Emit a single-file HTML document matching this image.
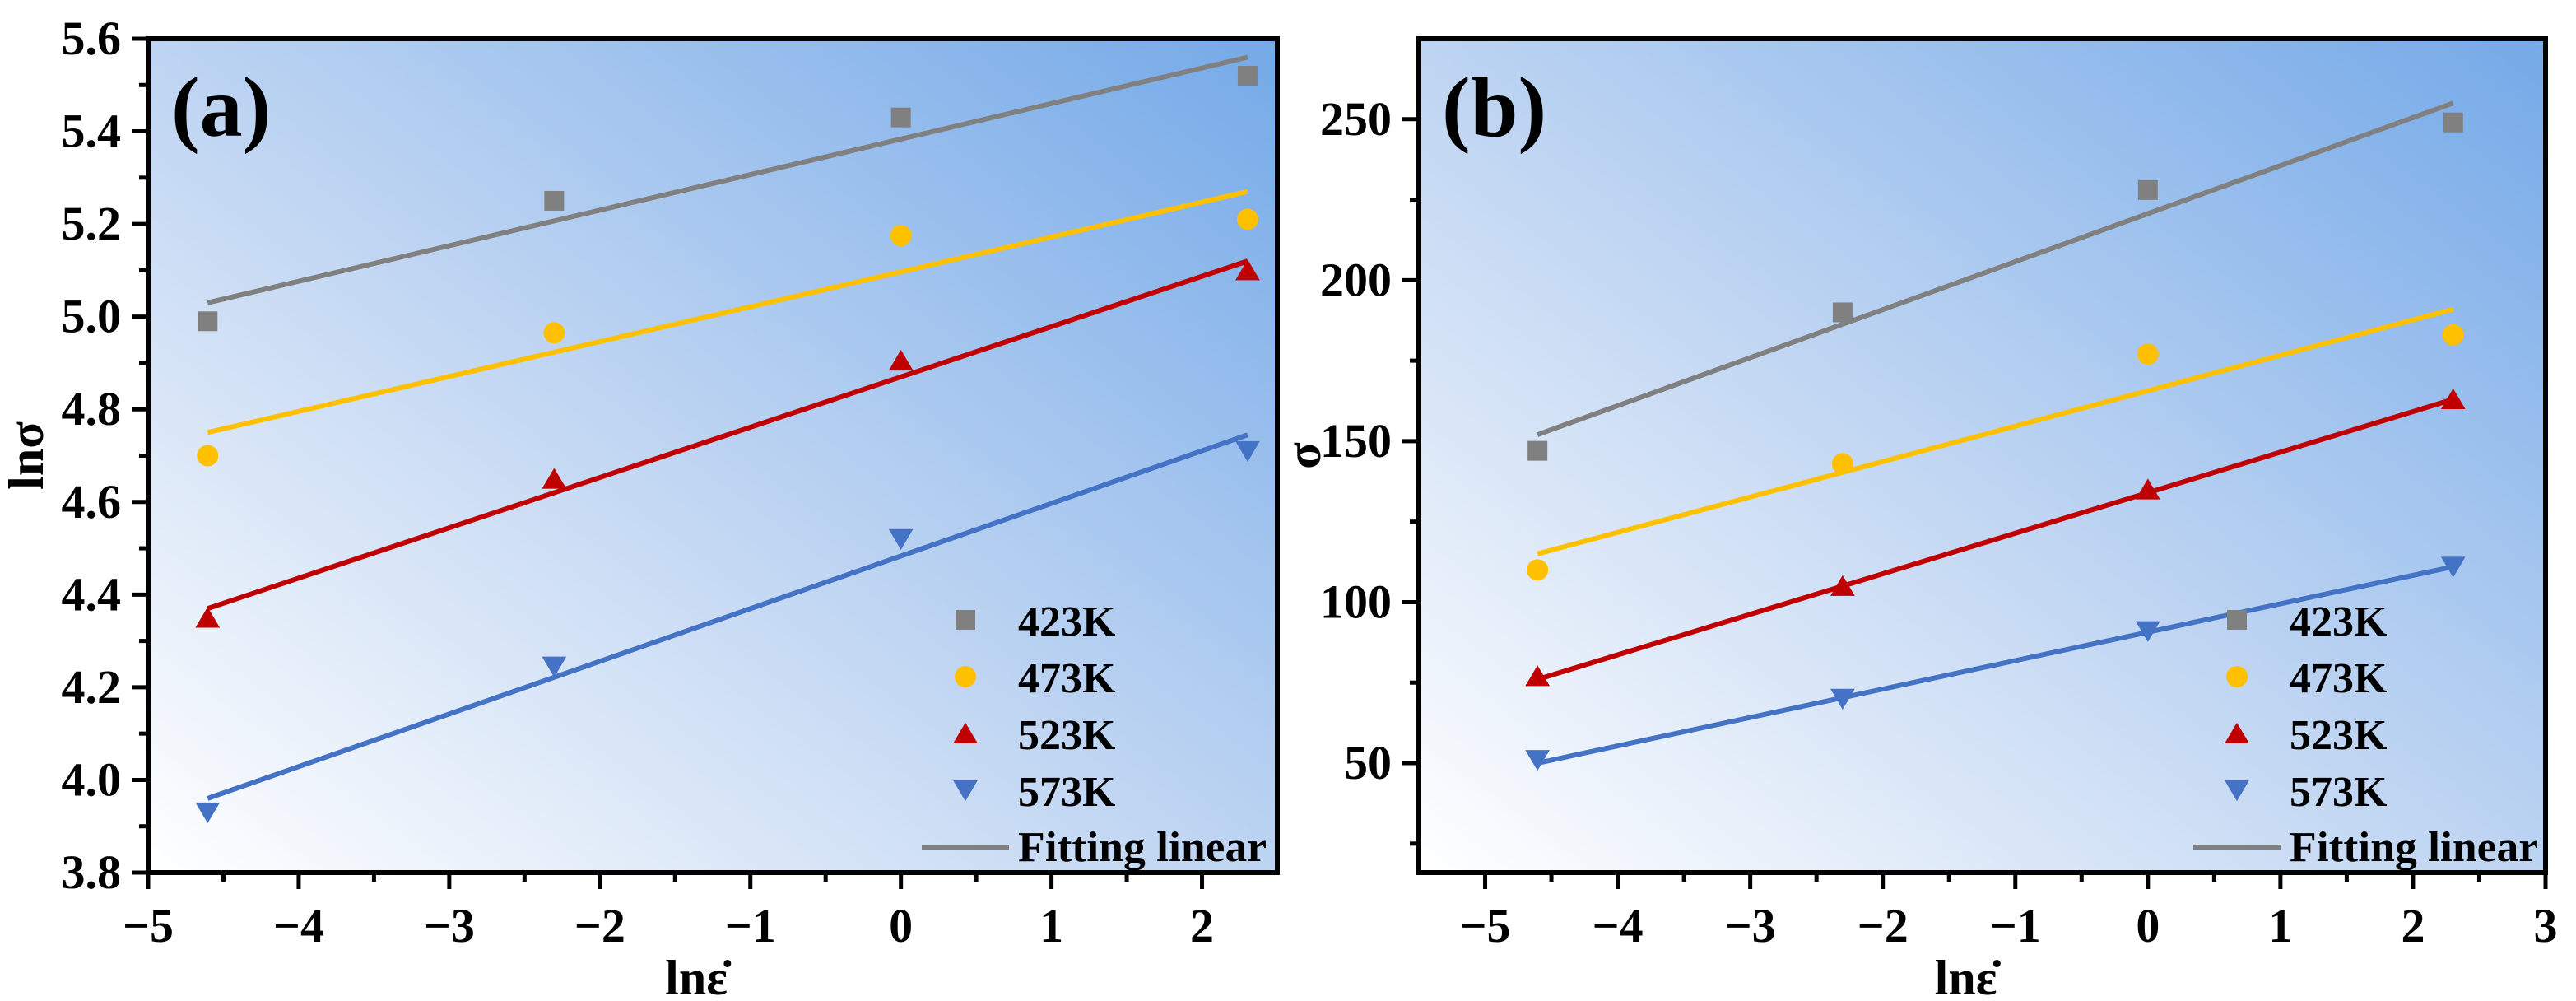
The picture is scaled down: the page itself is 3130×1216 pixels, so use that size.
<!DOCTYPE html>
<html><head><meta charset="utf-8"><style>
html,body{margin:0;padding:0;background:#fff;}
svg{display:block;font-family:"Liberation Serif",serif;font-weight:bold;}
</style></head><body>
<svg id="fig" width="3130" height="1216" viewBox="0 0 3130 1216" xmlns="http://www.w3.org/2000/svg">
<defs>
<linearGradient id="bg" x1="0" y1="1" x2="1" y2="0">
<stop offset="0" stop-color="#ffffff"/>
<stop offset="0.45" stop-color="#c4d8f3"/>
<stop offset="1" stop-color="#74a9e8"/>
</linearGradient>
</defs>
</svg>
<script>
const xVals = [-4.605, -2.303, 0, 2.303];
const seriesNames = ['423K', '473K', '523K', '573K'];
const colors = ['#808080', '#ffc000', '#c00000', '#4472c4'];
const markers = ['square', 'circle', 'up', 'down'];
// panel a: ln sigma
const a423 = [4.99, 5.25, 5.43, 5.52];
const a473 = [4.70, 4.965, 5.175, 5.21];
const a523 = [4.35, 4.65, 4.905, 5.10];
const a573 = [3.93, 4.245, 4.52, 4.71];
const aFitStart = [5.03, 4.75, 4.37, 3.96];
const aFitEnd = [5.56, 5.27, 5.12, 4.745];
const aYTicks = [3.8, 4.0, 4.2, 4.4, 4.6, 4.8, 5.0, 5.2, 5.4, 5.6];
const aYLabels = ['3.8', '4.0', '4.2', '4.4', '4.6', '4.8', '5.0', '5.2', '5.4', '5.6'];
const aXTicks = [-5, -4, -3, -2, -1, 0, 1, 2];
// panel b: sigma
const b423 = [147, 190, 228, 249];
const b473 = [110, 143, 177, 183];
const b523 = [77, 105, 135, 163];
const b573 = [51, 70, 91, 111];
const bFitStart = [152, 115, 76, 50];
const bFitEnd = [255, 191, 163, 111];
const bYTicks = [50, 100, 150, 200, 250];
const bXTicks = [-5, -4, -3, -2, -1, 0, 1, 2, 3];

const NS = 'http://www.w3.org/2000/svg';
const svg = document.getElementById('fig');
function mk(tag, attrs, parent) {
  const e = document.createElementNS(NS, tag);
  for (const k in attrs) e.setAttribute(k, attrs[k]);
  (parent || svg).appendChild(e);
  return e;
}
function fmt(v) { return v < 0 ? '\u2212' + Math.abs(v) : String(v); }

function marker(g, type, cx, cy, color, s) {
  let e;
  if (type === 'square') e = mk('rect', {x: cx - s/2, y: cy - s/2, width: s, height: s, fill: color}, g);
  else if (type === 'circle') e = mk('circle', {cx: cx, cy: cy, r: s/2 + 1, fill: color}, g);
  else if (type === 'up') e = mk('polygon', {points: `${cx-s*0.62},${cy+s*0.5} ${cx+s*0.62},${cy+s*0.5} ${cx},${cy-s*0.55}`, fill: color}, g);
  else e = mk('polygon', {points: `${cx-s*0.62},${cy-s*0.5} ${cx+s*0.62},${cy-s*0.5} ${cx},${cy+s*0.55}`, fill: color}, g);
  return e;
}

function panel(cfg) {
  const {L, R, T, B, xmin, xmax, ymin, ymax} = cfg;
  const sx = v => L + (v - xmin) / (xmax - xmin) * (R - L);
  const sy = v => B - (v - ymin) / (ymax - ymin) * (B - T);
  const g = mk('g', {});
  
  
  const bg = mk('rect', {x: L, y: T, width: R - L, height: B - T, fill: 'url(#bg)'}, g);
  
  
  cfg.series.forEach((s, i) => {
    const ln = mk('line', {x1: sx(xVals[0]), y1: sy(cfg.fitStart[i]), x2: sx(xVals[3]), y2: sy(cfg.fitEnd[i]), stroke: colors[i], 'stroke-width': 6}, g);
    
    
  });
  cfg.series.forEach((s, i) => {
    s.forEach((v, j) => {
      const m = marker(g, markers[i], sx(xVals[j]), sy(v), colors[i], 24);
      
      
    });
  });
  const fr = mk('rect', {x: L, y: T, width: R - L, height: B - T, fill: 'none', stroke: '#000', 'stroke-width': 6}, g);
  
  
  cfg.xTicks.forEach(v => {
    const x = sx(v);
    mk('line', {x1: x, y1: B, x2: x, y2: B + 20, stroke: '#000', 'stroke-width': 5}, g);
    const t = mk('text', {x: x, y: B + 84, 'text-anchor': 'middle', 'font-size': 58}, g);
    t.textContent = fmt(v);
    
    
    const mx = x + (sx(1) - sx(0)) / 2;
    if (mx < R - 2) mk('line', {x1: mx, y1: B, x2: mx, y2: B + 11, stroke: '#000', 'stroke-width': 5}, g);
  });
  cfg.yTicks.forEach((v, k) => {
    const y = sy(v);
    mk('line', {x1: L - 20, y1: y, x2: L, y2: y, stroke: '#000', 'stroke-width': 5}, g);
    const t = mk('text', {x: L - 33, y: y + 19, 'text-anchor': 'end', 'font-size': 58}, g);
    t.textContent = cfg.yLabels ? cfg.yLabels[k] : fmt(v);
    
    
  });
  cfg.yMinor.forEach(v => {
    const y = sy(v);
    if (y > T + 2 && y < B - 2) mk('line', {x1: L - 11, y1: y, x2: L, y2: y, stroke: '#000', 'stroke-width': 5}, g);
  });
  const xt = mk('text', {x: (L + R) / 2 - 20, y: 1208, 'text-anchor': 'middle', 'font-size': 60}, g);
  xt.textContent = 'ln\u03b5\u0307';
  
  
  const yt = mk('text', {x: 0, y: 0, 'text-anchor': 'middle', 'font-size': 60, transform: `translate(${cfg.ytX},${(T + B) / 2}) rotate(-90)`}, g);
  yt.textContent = cfg.yTitle;
  
  
  const pl = mk('text', {x: L + 28, y: T + 118, 'font-size': 104}, g);
  pl.textContent = cfg.label;
  
  
  const lg = mk('g', {}, g);
  
  
  seriesNames.forEach((n, i) => {
    const y = cfg.legY + i * 69;
    marker(lg, markers[i], cfg.legX, y, colors[i], 24);
    const t = mk('text', {x: cfg.legX + 64, y: y + 19, 'font-size': 52}, lg);
    t.textContent = n;
    
    
  });
  const fy = cfg.legY + 4 * 69;
  mk('line', {x1: cfg.legX - 53, y1: fy, x2: cfg.legX + 53, y2: fy, stroke: '#808080', 'stroke-width': 6}, lg);
  const ft = mk('text', {x: cfg.legX + 64, y: fy + 17, 'font-size': 52, textLength: cfg.ftLen, lengthAdjust: 'spacingAndGlyphs'}, lg);
  ft.textContent = 'Fitting linear';
  
  
}

panel({name: 'panel-a', L: 180, R: 1552, T: 47, B: 1060, xmin: -5, xmax: 2.5, ymin: 3.8, ymax: 5.6,
  series: [a423, a473, a523, a573], fitStart: aFitStart, fitEnd: aFitEnd,
  xTicks: aXTicks, yTicks: aYTicks, yLabels: aYLabels, yMinor: [3.9, 4.1, 4.3, 4.5, 4.7, 4.9, 5.1, 5.3, 5.5],
  yTitle: 'ln\u03c3', ytX: 52, label: '(a)', legX: 1173, legY: 753, ftLen: 302});
panel({name: 'panel-b', L: 1724, R: 3093, T: 47, B: 1060, xmin: -5.5, xmax: 3, ymin: 16, ymax: 275,
  series: [b423, b473, b523, b573], fitStart: bFitStart, fitEnd: bFitEnd,
  xTicks: bXTicks, yTicks: bYTicks, yMinor: [25, 75, 125, 175, 225],
  yTitle: '\u03c3', ytX: 1604, label: '(b)', legX: 2718, legY: 753, ftLen: 302});
</script>
</body></html>
